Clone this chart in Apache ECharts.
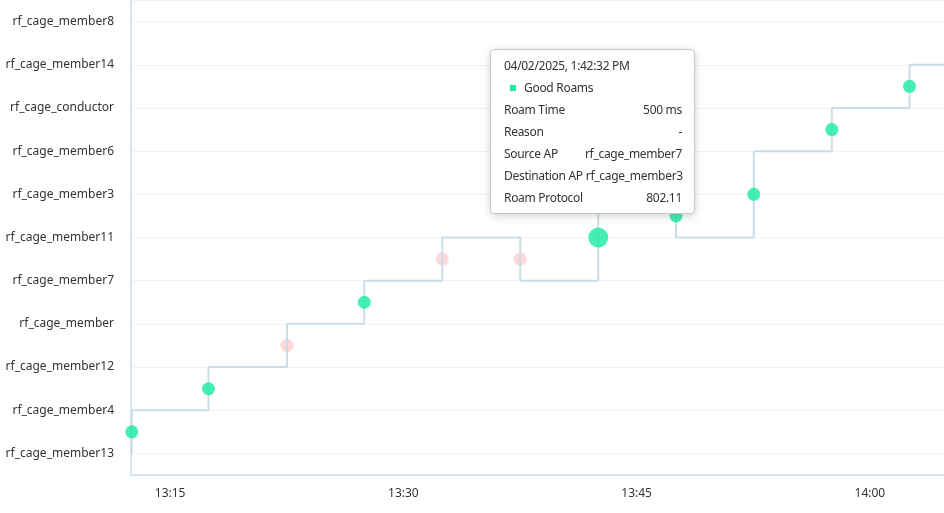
<!DOCTYPE html>
<html>
<head>
<meta charset="utf-8">
<script src="https://cdn.jsdelivr.net/npm/echarts@6/dist/echarts.min.js"></script>
<style>
  html, body { margin: 0; padding: 0; background: #fff; }
  #roam-chart { width: 944px; height: 513px; }
</style>
</head>
<body>
<div id="roam-chart"></div>
<script>
// access points, bottom to top on the y axis
var apNames = ['rf_cage_member13', 'rf_cage_member4', 'rf_cage_member12', 'rf_cage_member',
    'rf_cage_member7', 'rf_cage_member11', 'rf_cage_member3', 'rf_cage_member6',
    'rf_cage_conductor', 'rf_cage_member14', 'rf_cage_member8'];

var roamDate = [2025, 3, 2]; // 04/02/2025
var roamTimes = ['13:12:32', '13:17:28', '13:22:31', '13:27:29', '13:32:30', '13:37:31',
    '13:42:32', '13:47:32', '13:52:32', '13:57:33', '14:02:33'];
var sourceAp = ['rf_cage_member13', 'rf_cage_member4', 'rf_cage_member12', 'rf_cage_member',
    'rf_cage_member7', 'rf_cage_member11', 'rf_cage_member7', 'rf_cage_member3',
    'rf_cage_member11', 'rf_cage_member6', 'rf_cage_conductor'];
var destAp = ['rf_cage_member4', 'rf_cage_member12', 'rf_cage_member', 'rf_cage_member7',
    'rf_cage_member11', 'rf_cage_member7', 'rf_cage_member3', 'rf_cage_member11',
    'rf_cage_member6', 'rf_cage_conductor', 'rf_cage_member14'];
var roamGood = [true, true, false, true, false, false, true, true, true, true, true];
var roamTimeMs = [null, null, null, null, null, null, 500, null, null, null, null];
var roamReason = ['-', '-', '-', '-', '-', '-', '-', '-', '-', '-', '-'];
var roamProtocol = ['802.11', '802.11', '802.11', '802.11', '802.11', '802.11',
    '802.11', '802.11', '802.11', '802.11', '802.11'];

var axisStart = '13:12:29';
var axisEnd = '14:04:46';
var xTickLabels = ['13:15', '13:30', '13:45', '14:00'];
var tipRoam = 6; // roam the tooltip is open on

function toDate(hms) {
    var p = hms.split(':');
    return new Date(roamDate[0], roamDate[1], roamDate[2], +p[0], +p[1], +p[2]);
}
function pad(n) { return (n < 10 ? '0' : '') + n; }
function fmtTitle(d) {
    var h = d.getHours() % 12 || 12;
    return pad(d.getMonth() + 1) + '/' + pad(d.getDate()) + '/' + d.getFullYear() + ', ' +
        h + ':' + pad(d.getMinutes()) + ':' + pad(d.getSeconds()) + ' ' + (d.getHours() < 12 ? 'AM' : 'PM');
}

// step line: which AP the client sits on over time
var pathData = [[toDate(roamTimes[0]), apNames.indexOf(sourceAp[0])]];
for (var i = 0; i < roamTimes.length; i++) {
    pathData.push([toDate(roamTimes[i]), apNames.indexOf(destAp[i])]);
}
pathData.push([toDate(axisEnd), apNames.indexOf(destAp[destAp.length - 1])]);

// roam markers sit halfway between source and destination
var goodData = [], badData = [];
for (var i = 0; i < roamTimes.length; i++) {
    var mid = (apNames.indexOf(sourceAp[i]) + apNames.indexOf(destAp[i])) / 2;
    var item = { value: [toDate(roamTimes[i]), mid], roam: i };
    if (roamGood[i]) goodData.push(item); else badData.push(item);
}
var tipIndex = 0;
goodData.forEach(function (d, k) { if (d.roam === tipRoam) tipIndex = k; });

var FONT = 'Noto Sans';

function tipRow(label, value) {
    return '<div style="display:flex;justify-content:space-between;white-space:nowrap;height:22px;line-height:22px;">' +
        '<span>' + label + '</span><span style="margin-left:3px;">' + value + '</span></div>';
}

var chart = echarts.init(document.getElementById('roam-chart'));
var option = {
    animation: false,
    grid: { left: 131, right: 0, top: -1.6, bottom: 38 },
    tooltip: {
        trigger: 'item',
        alwaysShowContent: true,
        transitionDuration: 0,
        position: [490, 49],
        padding: [5, 12, 4, 13],
        backgroundColor: '#fff',
        borderColor: '#c8c8c8',
        borderWidth: 1,
        extraCssText: 'border-radius:4px;box-shadow:0 2px 8px rgba(0,0,0,0.18);width:178px;',
        textStyle: { fontFamily: FONT, fontSize: 12, color: '#333' },
        formatter: function (p) {
            var r = p.data.roam;
            var ms = roamTimeMs[r] == null ? '-' : roamTimeMs[r] + ' ms';
            return '<div style="font-family:' + FONT + ';font-size:12px;letter-spacing:-0.3px;color:#333;">' +
                '<div style="height:22px;line-height:22px;">' + fmtTitle(toDate(roamTimes[r])) + '</div>' +
                '<div style="height:22px;line-height:22px;padding-left:6px;">' +
                '<span style="display:inline-block;width:6px;height:6px;background:' + p.color +
                ';margin-right:8px;vertical-align:middle;position:relative;top:-1px;"></span>' + p.seriesName + '</div>' +
                tipRow('Roam Time', ms) +
                tipRow('Reason', roamReason[r]) +
                tipRow('Source AP', sourceAp[r]) +
                tipRow('Destination AP', destAp[r]) +
                tipRow('Roam Protocol', roamProtocol[r]) +
                '</div>';
        }
    },
    xAxis: {
        type: 'time',
        min: toDate(axisStart),
        max: toDate(axisEnd),
        splitNumber: 3,
        axisLine: { onZero: false, lineStyle: { color: '#d6e2ec', width: 2 } },
        axisTick: { show: false },
        splitLine: { show: false },
        axisLabel: {
            color: '#333',
            fontFamily: FONT,
            fontSize: 12,
            margin: 13,
            hideOverlap: false,
            formatter: function (v) {
                var d = new Date(v);
                var s = pad(d.getHours()) + ':' + pad(d.getMinutes());
                return xTickLabels.indexOf(s) >= 0 ? s : '';
            }
        }
    },
    yAxis: {
        type: 'value',
        min: -0.5,
        max: 10.5,
        minInterval: 1,
        maxInterval: 1,
        axisLine: { show: true, lineStyle: { color: '#d6e2ec', width: 2 } },
        axisTick: { show: false },
        splitLine: { lineStyle: { color: '#f2f3f5', width: 1 } },
        axisLabel: {
            color: '#333',
            fontFamily: FONT,
            fontSize: 12,
            margin: 17,
            formatter: function (v) {
                return Number.isInteger(v) && apNames[v] ? apNames[v] : '';
            }
        }
    },
    series: [
        {
            name: 'Failed Roams',
            type: 'scatter',
            symbolSize: 13,
            itemStyle: { color: 'rgba(250, 90, 95, 0.3)' },
            data: badData,
            z: 1
        },
        {
            name: 'Path',
            type: 'line',
            step: 'end',
            showSymbol: false,
            silent: true,
            lineStyle: { color: '#cadee6', width: 2 },
            data: pathData,
            z: 2
        },
        {
            name: 'Good Roams',
            type: 'scatter',
            symbolSize: function (val, p) { return p.dataIndex === tipIndex ? 20 : 13; },
            itemStyle: { color: '#17eba0' },
            data: goodData,
            z: 3
        }
    ]
};
chart.setOption(option);
chart.dispatchAction({ type: 'showTip', seriesIndex: 2, dataIndex: tipIndex });
</script>
</body>
</html>
